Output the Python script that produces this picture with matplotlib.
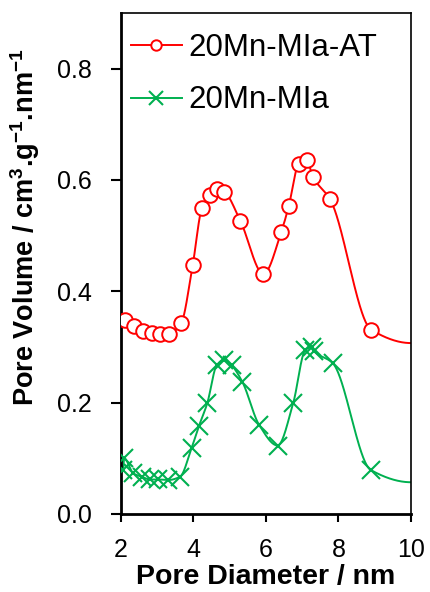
import numpy as np
import matplotlib
matplotlib.use("Agg")
import matplotlib.pyplot as plt

plt.rcParams['font.family'] = ['Liberation Sans', 'DejaVu Sans']
plt.rcParams['mathtext.fontset'] = 'custom'
plt.rcParams['mathtext.rm'] = 'Liberation Sans'
plt.rcParams['mathtext.bf'] = 'Liberation Sans:bold'

# Pore size distribution data (pore diameter in nm, pore volume in cm3 g-1 nm-1)
at_diam = [2.11, 2.37, 2.62, 2.86, 3.09, 3.33, 3.66, 3.98, 4.23, 4.46, 4.64,
           4.84, 5.29, 5.93, 6.42, 6.63, 6.90, 7.13, 7.29, 7.77, 8.90]
at_vol = [0.348, 0.338, 0.328, 0.325, 0.324, 0.324, 0.343, 0.448, 0.549, 0.573,
          0.583, 0.579, 0.527, 0.431, 0.506, 0.554, 0.628, 0.635, 0.606, 0.565,
          0.331]

mia_diam = [2.06, 2.09, 2.34, 2.57, 2.80, 3.03, 3.31, 3.63, 3.95, 4.15, 4.38,
            4.64, 4.84, 5.05, 5.35, 5.81, 6.32, 6.75, 7.08, 7.26, 7.32, 7.84,
            8.89]
mia_vol = [0.079, 0.100, 0.073, 0.067, 0.062, 0.062, 0.061, 0.067, 0.119, 0.158,
           0.199, 0.267, 0.277, 0.267, 0.237, 0.160, 0.123, 0.199, 0.294, 0.300,
           0.293, 0.271, 0.079]

# End of the fitted curves at the upper diameter limit
curve_end_diam = 10.0
at_curve_end = 0.307
mia_curve_end = 0.057

labels = ['20Mn-MIa-AT', '20Mn-MIa']
xticks = [2, 4, 6, 8, 10]
yticks = [0.0, 0.2, 0.4, 0.6, 0.8]


def pchip(x, y, xs):
    """Shape-preserving piecewise cubic Hermite interpolation."""
    x = np.asarray(x, float)
    y = np.asarray(y, float)
    h = np.diff(x)
    delta = np.diff(y) / h
    n = len(x)
    d = np.zeros(n)
    for k in range(1, n - 1):
        if delta[k - 1] * delta[k] > 0:
            w1 = 2 * h[k] + h[k - 1]
            w2 = h[k] + 2 * h[k - 1]
            d[k] = (w1 + w2) / (w1 / delta[k - 1] + w2 / delta[k])
    d[0] = ((2 * h[0] + h[1]) * delta[0] - h[0] * delta[1]) / (h[0] + h[1])
    if np.sign(d[0]) != np.sign(delta[0]):
        d[0] = 0
    d[-1] = ((2 * h[-1] + h[-2]) * delta[-1] - h[-1] * delta[-2]) / (h[-1] + h[-2])
    if np.sign(d[-1]) != np.sign(delta[-1]):
        d[-1] = 0
    idx = np.clip(np.searchsorted(x, xs) - 1, 0, n - 2)
    t = (xs - x[idx]) / h[idx]
    h00 = 2 * t**3 - 3 * t**2 + 1
    h10 = t**3 - 2 * t**2 + t
    h01 = -2 * t**3 + 3 * t**2
    h11 = t**3 - t**2
    return (h00 * y[idx] + h10 * h[idx] * d[idx]
            + h01 * y[idx + 1] + h11 * h[idx] * d[idx + 1])


def smooth(x, y, x_end, y_end):
    xk = np.append(np.asarray(x, float), x_end)
    yk = np.append(np.asarray(y, float), y_end)
    xs = np.linspace(xk[0], xk[-1], 800)
    return xs, pchip(xk, yk, xs)


fig = plt.figure(figsize=(4.31, 5.92), dpi=100)
ax = fig.add_axes([0.2807, 0.1318, 0.6729, 0.8463])

red = '#ff0000'
green = '#00b050'

rx, ry = smooth(at_diam, at_vol, curve_end_diam, at_curve_end)
gx, gy = smooth(mia_diam, mia_vol, curve_end_diam, mia_curve_end)

ax.plot(rx, ry, color=red, lw=1.4, zorder=2)
ax.plot(at_diam, at_vol, ls='none', marker='o', ms=10.5, mfc='white',
        mec=red, mew=1.4, zorder=3)
ax.plot(gx, gy, color=green, lw=1.4, zorder=2)
ax.plot(mia_diam, mia_vol, ls='none', marker='x', ms=12.5, mec=green,
        mew=1.5, zorder=3)

# legend proxies
h1, = ax.plot([], [], color=red, lw=1.4, marker='o', ms=7.5, mfc='white',
              mec=red, mew=1.4)
h2, = ax.plot([], [], color=green, lw=1.4, marker='x', ms=9.5, mec=green,
              mew=1.5)
leg = ax.legend([h1, h2], labels, loc='upper left', frameon=False,
                fontsize=22.5, handlelength=1.65, handletextpad=0.2,
                labelspacing=0.72, borderaxespad=0.0,
                bbox_to_anchor=(-0.01, 0.985))

ax.set_xlim(2, 10)
ax.set_ylim(0, 0.9)
ax.set_xticks(xticks)
ax.set_xticklabels([str(v) for v in xticks])
ax.set_yticks(yticks)
ax.set_yticklabels([f'{v:.1f}' for v in yticks])
ax.tick_params(axis='both', direction='out', labelsize=18, width=1.5,
               colors='black')
ax.tick_params(axis='y', length=7, pad=14)
ax.tick_params(axis='x', length=6, pad=11)

for side in ['left', 'bottom']:
    ax.spines[side].set_linewidth(2.0)
for side in ['top', 'right']:
    ax.spines[side].set_linewidth(1.2)

ax.set_xlabel('Pore Diameter / nm', fontsize=20.5, fontweight='bold',
              labelpad=2)
ax.set_ylabel(r'Pore Volume / cm$^{\mathbf{3}}$.g$^{\mathbf{-1}}$.nm$^{\mathbf{-1}}$',
              fontsize=19.5, fontweight='bold')
ax.yaxis.set_label_coords(-0.272, 0.573)

fig.savefig('out.png', dpi=100)
